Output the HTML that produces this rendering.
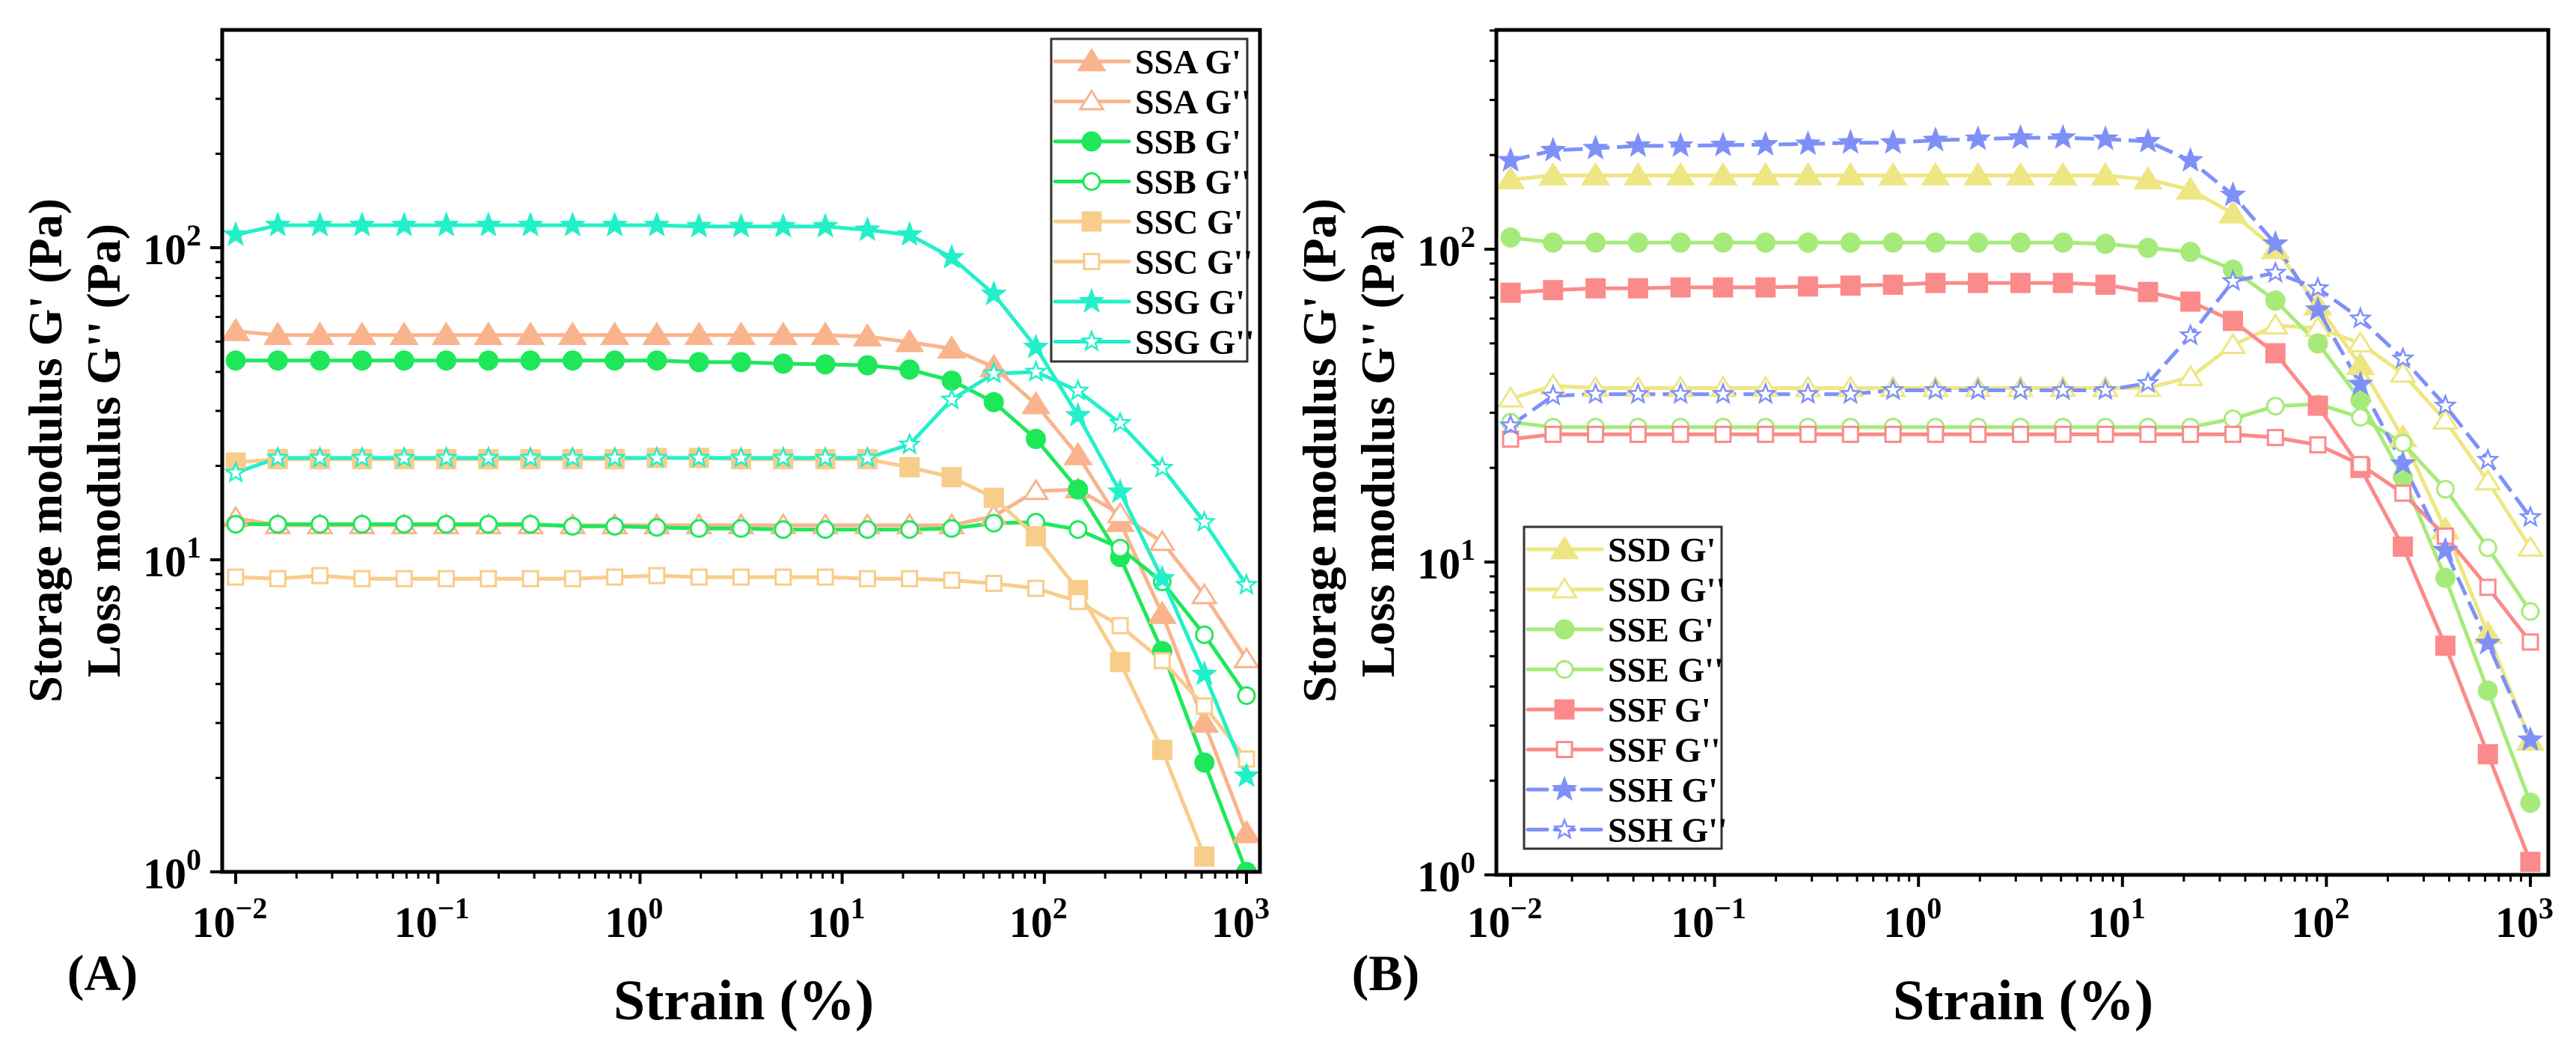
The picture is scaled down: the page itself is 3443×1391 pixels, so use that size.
<!DOCTYPE html>
<html><head><meta charset="utf-8"><style>
html,body{margin:0;padding:0;background:#fff}
svg{display:block}
text{font-family:"Liberation Serif",serif;font-weight:bold;fill:#000}
</style></head><body>
<svg id="chart" width="3443" height="1391" viewBox="0 0 3443 1391" xmlns="http://www.w3.org/2000/svg"></svg>
<script>
// Data: strain points (log10 from -2 to 3, 25 points)
const strainExp = [-2,-1.7917,-1.5833,-1.375,-1.1667,-0.9583,-0.75,-0.5417,-0.3333,-0.125,0.0833,0.2917,0.5,0.7083,0.9167,1.125,1.3333,1.5417,1.75,1.9583,2.1667,2.375,2.5833,2.7917,3];
const xTickExp = [-2,-1,0,1,2,3];
const yTickExp = [0,1,2];
// Panel A
const ssaGp  = [54,52.5,52.5,52.5,52.5,52.5,52.5,52.5,52.5,52.5,52.5,52.5,52.5,52.5,52.5,51.9,49.8,47.5,41.4,31.5,21.6,13.2,6.7,3.0,1.33];
const ssaGpp = [13.6,12.9,12.9,12.9,12.9,12.9,12.9,12.9,12.9,12.9,12.9,12.9,12.9,12.9,12.9,12.9,12.9,12.9,13.8,16.6,16.8,14,11.4,7.7,4.8];
const ssbGp  = [43.5,43.5,43.5,43.5,43.5,43.5,43.5,43.5,43.5,43.5,43.5,43,43,42.5,42.3,42,40.7,37.5,32,24.4,16.8,10.2,5.1,2.24,1.0];
const ssbGpp = [13,13,13,13,13,13,13,13,12.8,12.8,12.7,12.6,12.6,12.5,12.5,12.5,12.5,12.6,13.1,13.2,12.5,10.9,8.5,5.75,3.67];
const sscGp  = [20.5,21,21,21,21,21,21,21,21,21,21.2,21.2,21,21,21,21,19.8,18.4,15.8,11.9,8.0,4.7,2.46,1.12,null];
const sscGpp = [8.8,8.7,8.9,8.7,8.7,8.7,8.7,8.7,8.7,8.8,8.9,8.8,8.8,8.8,8.8,8.7,8.7,8.6,8.4,8.1,7.35,6.15,4.75,3.4,2.3];
const ssgGp  = [110,118,118,118,118,118,118,118,118,118,118,117,117,117,117,114,110,93,71,48,29,16.5,8.7,4.3,2.03];
const ssgGpp = [19,21.2,21.2,21.2,21.2,21.2,21.2,21.2,21.2,21.2,21.2,21.2,21.2,21.2,21.2,21.2,23.4,32.6,39.5,40,34.8,27.4,19.7,13.2,8.3];
// Panel B
const ssdGp  = [167,172,172,172,172,172,172,172,172,172,172,172,172,172,172,167,155,130,100,66,42.6,25,12.7,5.9,2.68];
const ssdGpp = [33.3,36.6,36,36,36,36,36,36,36,36,36,36,36,36,36,36,39,49.4,57,56,50,40,28.3,18.1,11.1];
const sseGp  = [109,105,105,105,105,105,105,105,105,105,105,105,105,105,104,101,98,86,68.5,50,33,18.7,8.9,3.88,1.7];
const sseGpp = [28,27,27,27,27,27,27,27,27,27,27,27,27,27,27,27,27,28.7,31.5,32,29,24,17.1,11.1,6.95];
const ssfGp  = [72.6,74,75,75,75.5,75.5,75.5,76,76.5,77,78,78,78,78,77,73,68,59,46.5,31.6,20,11.2,5.4,2.43,1.1];
const ssfGpp = [24.7,25.6,25.6,25.6,25.6,25.6,25.6,25.6,25.6,25.6,25.6,25.6,25.6,25.6,25.6,25.6,25.6,25.6,25,23.7,20.5,16.6,12.1,8.3,5.55];
const sshGp  = [192,207,210,214,214,215,216,217,219,219,223,225,227,227,225,221,192,149,104,64,37,20.6,10.9,5.5,2.7];
const sshGpp = [27.3,34,34.4,34.4,34.4,34.4,34.4,34.4,34.4,35.4,35.4,35.4,35.4,35.4,35.4,37.3,53,79,84,75,60,44.7,31.6,21.2,13.9];

const NS='http://www.w3.org/2000/svg';
const svg=document.getElementById('chart');
function mk(tag,attrs,parent){const e=document.createElementNS(NS,tag);for(const k in attrs)e.setAttribute(k,attrs[k]);(parent||svg).appendChild(e);return e;}

const panels=[
 {id:'a',left:297,right:1684,top:40,bottom:1165,x0:315,x3:1666,y0:1165,y2:331,label:'(A)',labelX:137,strainX:994,
  legend:{x:1405,y:52,w:262,h:431},
  series:[
   {name:'SSA G\'',key:'ssa-gp',data:ssaGp,color:'#F9B48E',m:'tri',fill:true},
   {name:'SSA G\'\'',key:'ssa-gpp',data:ssaGpp,color:'#F9B48E',m:'tri',fill:false},
   {name:'SSB G\'',key:'ssb-gp',data:ssbGp,color:'#1EE85A',m:'circ',fill:true},
   {name:'SSB G\'\'',key:'ssb-gpp',data:ssbGpp,color:'#1EE85A',m:'circ',fill:false},
   {name:'SSC G\'',key:'ssc-gp',data:sscGp,color:'#F8CC8A',m:'sq',fill:true},
   {name:'SSC G\'\'',key:'ssc-gpp',data:sscGpp,color:'#F8CC8A',m:'sq',fill:false},
   {name:'SSG G\'',key:'ssg-gp',data:ssgGp,color:'#22F0C8',m:'star',fill:true},
   {name:'SSG G\'\'',key:'ssg-gpp',data:ssgGpp,color:'#22F0C8',m:'star',fill:false}]},
 {id:'b',left:2000,right:3406,top:40,bottom:1169,x0:2019,x3:3382,y0:1169,y2:333,label:'(B)',labelX:1852,strainX:2704,
  legend:{x:2037,y:704,w:264,h:430},
  series:[
   {name:'SSD G\'',key:'ssd-gp',data:ssdGp,color:'#EEE682',m:'tri',fill:true},
   {name:'SSD G\'\'',key:'ssd-gpp',data:ssdGpp,color:'#EEE682',m:'tri',fill:false},
   {name:'SSE G\'',key:'sse-gp',data:sseGp,color:'#A6EB7A',m:'circ',fill:true},
   {name:'SSE G\'\'',key:'sse-gpp',data:sseGpp,color:'#A6EB7A',m:'circ',fill:false},
   {name:'SSF G\'',key:'ssf-gp',data:ssfGp,color:'#FB8A8A',m:'sq',fill:true},
   {name:'SSF G\'\'',key:'ssf-gpp',data:ssfGpp,color:'#FB8A8A',m:'sq',fill:false},
   {name:'SSH G\'',key:'ssh-gp',data:sshGp,color:'#7E90F8',m:'star',fill:true,dash:true},
   {name:'SSH G\'\'',key:'ssh-gpp',data:sshGpp,color:'#7E90F8',m:'star',fill:false,dash:true}]}
];

function starPts(cx,cy,R){const r=R*0.42;let p=[];for(let i=0;i<10;i++){const a=-Math.PI/2+i*Math.PI/5;const rr=i%2?r:R;p.push((cx+rr*Math.cos(a)).toFixed(1)+','+(cy+rr*Math.sin(a)).toFixed(1));}return p.join(' ');}
function marker(g,type,cx,cy,color,fill,scale){
 const f=fill?color:'#fff';const sw=fill?1:3;let el;
 if(type==='tri'){const s=(fill?17:14)*scale;el=mk('polygon',{points:`${cx},${cy-s} ${cx-s*1.1},${cy+s*0.75} ${cx+s*1.1},${cy+s*0.75}`,fill:f,stroke:color,'stroke-width':sw},g);}
 else if(type==='circ'){el=mk('circle',{cx:cx,cy:cy,r:(fill?13:11)*scale,fill:f,stroke:color,'stroke-width':sw},g);}
 else if(type==='sq'){const s=(fill?13:10)*scale;el=mk('rect',{x:cx-s,y:cy-s,width:2*s,height:2*s,fill:f,stroke:color,'stroke-width':sw},g);}
 else {el=mk('polygon',{points:starPts(cx,cy,(fill?17:13)*scale),fill:f,stroke:color,'stroke-width':fill?1:2.5},g);}
 return el;
}

panels.forEach(P=>{
 const xs=e=>P.x0+(e+2)*(P.x3-P.x0)/5;
 const ys=v=>P.y0-Math.log10(v)*(P.y0-P.y2)/2;
 const ysE=e=>P.y0-e*(P.y0-P.y2)/2;
 const g=mk('g',{});
 
 
 const cp=mk('clipPath',{id:'clip'+P.id},g);
 mk('rect',{x:P.left,y:P.top,width:P.right-P.left,height:P.bottom-P.top},cp);
 const ax=mk('g',{},g);
 
 
 xTickExp.forEach(e=>{
  const x=xs(e);
  mk('line',{x1:x,y1:P.bottom,x2:x,y2:P.bottom+16,stroke:'#000','stroke-width':4},ax);
  const t=mk('text',{x:x-8,y:1252,'font-size':58,'text-anchor':'middle'},ax);
  
  
  t.textContent='10';
  const sp=mk('tspan',{dy:-25,'font-size':40},t);sp.textContent=(e<0?'\u2212':'')+Math.abs(e);
  if(e<3)for(let k=2;k<10;k++){const xm=xs(e+Math.log10(k));mk('line',{x1:xm,y1:P.bottom,x2:xm,y2:P.bottom+9,stroke:'#000','stroke-width':3},ax);}
 });
 const ay=mk('g',{},g);
 
 
 yTickExp.forEach(e=>{
  const y=ysE(e);
  mk('line',{x1:P.left-16,y1:y,x2:P.left,y2:y,stroke:'#000','stroke-width':4},ay);
  const t=mk('text',{x:P.left-28,y:y+22,'font-size':58,'text-anchor':'end'},ay);
  
  
  t.textContent='10';
  const sp=mk('tspan',{dy:-25,'font-size':40},t);sp.textContent=String(e);
  for(let k=2;k<10;k++){const ym=ysE(e+Math.log10(k));if(ym>P.top)mk('line',{x1:P.left-9,y1:ym,x2:P.left,y2:ym,stroke:'#000','stroke-width':3},ay);}
 });
 const sg=mk('g',{'clip-path':`url(#clip${P.id})`},g);
 P.series.forEach(s=>{
  const pts=[];s.data.forEach((v,i)=>{if(v!=null)pts.push([xs(strainExp[i]),ys(v)]);});
  const pl=mk('polyline',{points:pts.map(p=>p.join(',')).join(' '),fill:'none',stroke:s.color,'stroke-width':5,'stroke-linejoin':'round'},sg);
  if(s.dash)pl.setAttribute('stroke-dasharray','26,10');
  
  
 });
 P.series.forEach(s=>{
  const mg=mk('g',{},sg);
  
  
  s.data.forEach((v,i)=>{if(v==null)return;const m=marker(mg,s.m,xs(strainExp[i]),ys(v),s.color,s.fill,1);
   
   });
 });
 const fr=mk('rect',{x:P.left,y:P.top,width:P.right-P.left,height:P.bottom-P.top,fill:'none',stroke:'#000','stroke-width':5},g);
 
 
 const L=P.legend;
 const lg=mk('g',{},g);
 
 
 mk('rect',{x:L.x,y:L.y,width:L.w,height:L.h,fill:'#fff',stroke:'#333','stroke-width':3},lg);
 P.series.forEach((s,i)=>{
  const y=L.y+30+i*53.5;
  const eg=mk('g',{},lg);
  
  
  const ln=mk('line',{x1:L.x+5,y1:y,x2:L.x+104,y2:y,stroke:s.color,'stroke-width':5,'stroke-linecap':'round'},eg);
  if(s.dash)ln.setAttribute('stroke-dasharray','26,10');
  marker(eg,s.m,L.x+54,y,s.color,s.fill,1);
  const t=mk('text',{x:L.x+112,y:y+16,'font-size':46},eg);t.textContent=s.name;
 });
 const st=mk('text',{x:P.strainX,y:1362,'font-size':76,'text-anchor':'middle'},g);
 
 
 st.textContent='Strain (%)';
 const pl=mk('text',{x:P.labelX,y:1323,'font-size':68,'text-anchor':'middle'},g);
 
 
 pl.textContent=P.label;
 const cy=602;
 const off=P.left-297;
 const t1=mk('text',{x:0,y:0,'font-size':64,'text-anchor':'middle',transform:`translate(${82+off},${cy}) rotate(-90)`},g);
 
 
 t1.textContent="Storage modulus G' (Pa)";
 const t2=mk('text',{x:0,y:0,'font-size':64,'text-anchor':'middle',transform:`translate(${160+off},${cy}) rotate(-90)`},g);
 
 
 t2.textContent="Loss modulus G'' (Pa)";
});
</script>
</body></html>
